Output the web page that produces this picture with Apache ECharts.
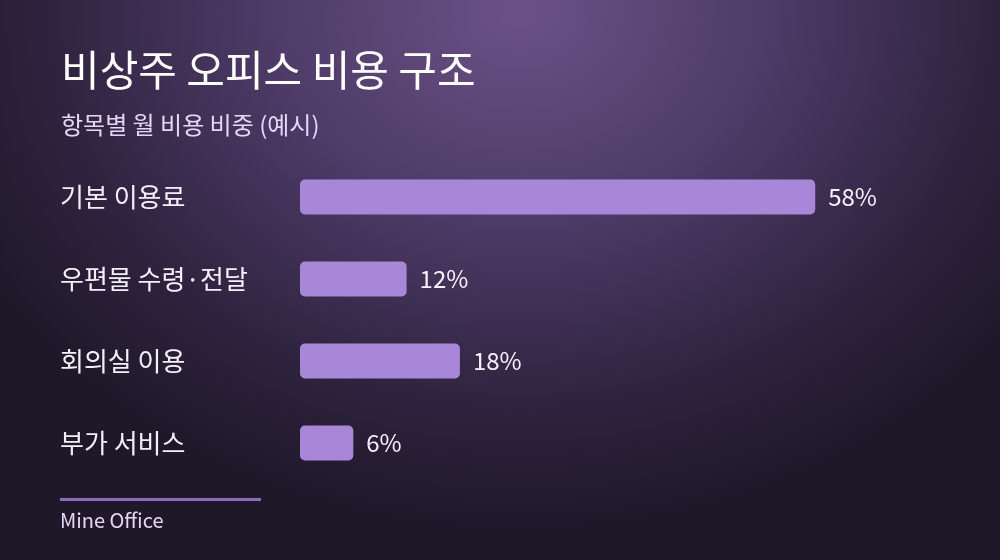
<!DOCTYPE html>
<html>
<head>
<meta charset="utf-8">
<script src="https://cdn.jsdelivr.net/npm/echarts@6/dist/echarts.min.js"></script>
<style>
html,body{margin:0;padding:0;width:1000px;height:560px;overflow:hidden;
background: radial-gradient(ellipse 620px 520px at 520px 10px, #6a5287 0%, #4e3b68 40%, #2f2440 75%, #1f1829 100%);}
#c{width:1000px;height:560px;}
</style>
</head>
<body>
<div id="c"></div>
<script>
const categories = ['기본 이용료', '우편물 수령·전달', '회의실 이용', '부가 서비스'];
const values = [58, 12, 18, 6];
const titleText = '비상주 오피스 비용 구조';
const subtitleText = '항목별 월 비용 비중 (예시)';
const footerText = 'Mine Office';

const FONT = '"Noto Sans CJK KR", "Noto Sans", sans-serif';
const chart = echarts.init(document.getElementById('c'), null, {renderer: 'canvas'});
chart.setOption({
  backgroundColor: 'transparent',
  title: {
    text: titleText,
    subtext: subtitleText,
    left: 56,
    top: 44,
    itemGap: 22,
    textStyle: {color: '#ffffff', fontSize: 42, fontWeight: 'normal', fontFamily: FONT},
    subtextStyle: {color: '#e6d6f5', fontSize: 24, fontWeight: 'normal', fontFamily: FONT}
  },
  grid: {left: 300, top: 156, height: 328, width: 533, containLabel: false},
  xAxis: {type: 'value', min: 0, max: 60, show: false},
  yAxis: {
    type: 'category', data: categories, inverse: true,
    axisLine: {show: false}, axisTick: {show: false}, splitLine: {show: false},
    axisLabel: {align: 'left', margin: 240, color: '#f4eefa', fontSize: 26, fontFamily: FONT}
  },
  series: [{
    type: 'bar', data: values, barWidth: 35,
    itemStyle: {color: '#a887d8', borderRadius: 5},
    label: {show: true, position: 'right', distance: 13, formatter: '{c}%',
      color: '#f6f0fb', fontSize: 24, fontFamily: FONT}
  }],
  graphic: [
    {type: 'rect', shape: {x: 60, y: 498, width: 201, height: 3}, style: {fill: '#8c6cb4'}},
    {type: 'text', left: 60, top: 510, style: {text: footerText, fill: '#e6d6f5', fontSize: 20, fontFamily: FONT}}
  ]
});
</script>
</body>
</html>
